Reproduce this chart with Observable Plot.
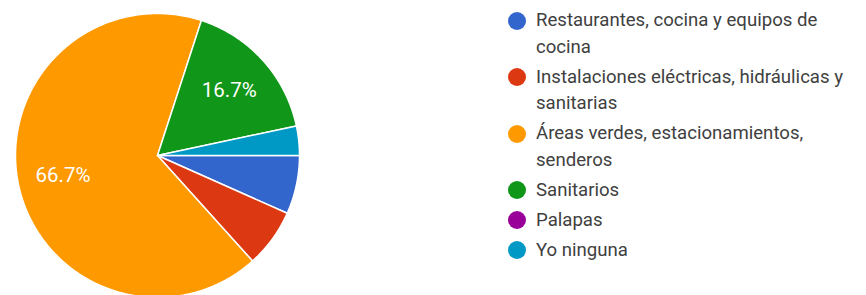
<!DOCTYPE html>
<html><head><meta charset="utf-8">
<script src="https://cdn.jsdelivr.net/npm/d3@7"></script>
<script src="https://cdn.jsdelivr.net/npm/@observablehq/plot@0.6"></script>
<style>
body{margin:0;background:#fff;}
#wrap{position:relative;width:866px;height:295px;overflow:hidden;background:#fff;}
#wrap svg{position:absolute;left:0;top:0;}
#legend{position:absolute;left:508px;top:7px;font-family:Roboto,"Noto Sans",sans-serif;font-size:18.6px;color:#404040;white-space:nowrap;}
.item{position:relative;padding-left:28px;line-height:26.5px;margin-bottom:3.5px;}
.dot{position:absolute;left:0;top:4.5px;width:18px;height:18px;border-radius:50%;}
</style></head><body><div id="wrap"><div id="legend"></div></div>
<script>
const categories = [
  "Restaurantes, cocina y equipos de cocina",
  "Instalaciones eléctricas, hidráulicas y sanitarias",
  "Áreas verdes, estacionamientos, senderos",
  "Sanitarios",
  "Palapas",
  "Yo ninguna"
];
const counts = [2, 2, 20, 5, 0, 1];
const colors = ["#3366cc", "#dc3912", "#ff9900", "#109618", "#990099", "#0099c6"];
const legendLines = [
  ["Restaurantes, cocina y equipos de", "cocina"],
  ["Instalaciones eléctricas, hidráulicas y", "sanitarias"],
  ["Áreas verdes, estacionamientos,", "senderos"],
  ["Sanitarios"],
  ["Palapas"],
  ["Yo ninguna"]
];

const data = categories.map((c, i) => ({cat: c, value: counts[i]}));
const total = d3.sum(counts);
const arcs = d3.pie().sort(null).value(d => d.value)
  .startAngle(Math.PI / 2).endAngle(Math.PI / 2 + 2 * Math.PI)(data);

const poly = [];
const labels = [];
arcs.forEach(a => {
  if (a.data.value <= 0) return;
  const n = Math.max(4, Math.ceil((a.endAngle - a.startAngle) / 0.01));
  poly.push({cat: a.data.cat, x: 0, y: 0});
  for (let k = 0; k <= n; k++) {
    const t = a.startAngle + (a.endAngle - a.startAngle) * k / n;
    poly.push({cat: a.data.cat, x: Math.sin(t), y: Math.cos(t)});
  }
  const frac = a.data.value / total;
  if (frac >= 0.1) {
    const m = (a.startAngle + a.endAngle) / 2;
    labels.push({x: 0.68 * Math.sin(m), y: 0.68 * Math.cos(m), text: (frac * 100).toFixed(1) + "%"});
  }
});

const plot = Plot.plot({
  width: 866,
  height: 295,
  margin: 0,
  x: {domain: [-1, 1], range: [15, 299], axis: null},
  y: {domain: [-1, 1], range: [297, 13], axis: null},
  color: {domain: categories, range: colors, legend: false},
  style: {background: "white"},
  marks: [
    Plot.line(poly, {x: "x", y: "y", z: "cat", fill: "cat", stroke: "white", strokeWidth: 1.5, curve: "linear-closed", strokeLinejoin: "round"}),
    Plot.text(labels, {x: "x", y: "y", text: "text", fill: "white", fontSize: 20.5, fontFamily: "Roboto, sans-serif"})
  ]
});
document.getElementById("wrap").insertBefore(plot, document.getElementById("legend"));

const color = plot.scale("color");
const legend = d3.select("#legend");
categories.forEach((c, i) => {
  const it = legend.append("div").attr("class", "item");
  it.append("span").attr("class", "dot").style("background", color.apply(c));
  legendLines[i].forEach(l => it.append("div").text(l));
});
</script>
</body></html>
